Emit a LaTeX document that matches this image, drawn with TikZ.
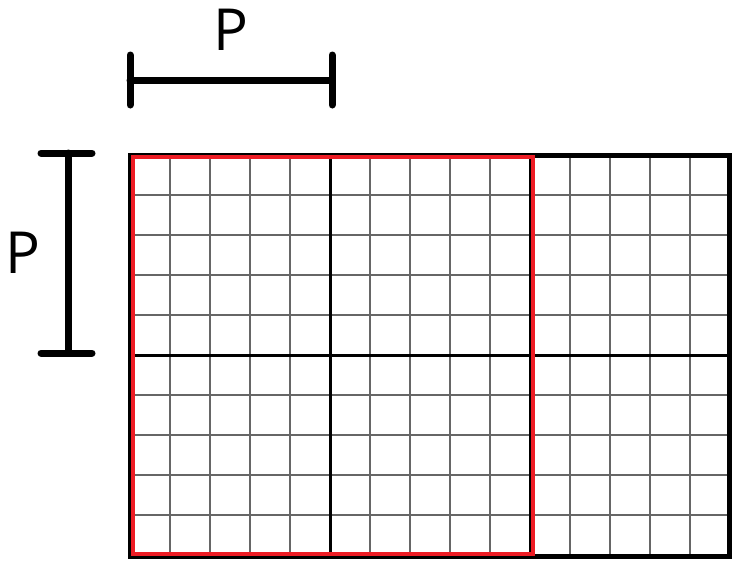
\documentclass[tikz,border=0pt]{standalone}
\usepackage{fontspec}
\setmainfont{Open Sans}
\usepackage{tikz}
\usetikzlibrary{positioning}

\definecolor{patchred}{RGB}{237,28,36}

\begin{document}
\begin{tikzpicture}[x=1pt, y=-1pt,
  fine/.style={black!60, line width=2pt},
  half/.style={black, line width=3pt},
  outline/.style={black, line width=5pt},
  patch/.style={patchred, line width=3.5pt},
  dimbar/.style={black, line width=7pt, line cap=round},
  lbl/.style={font=\fontsize{58}{60}\selectfont, inner sep=0pt}]

  \useasboundingbox (0,0) rectangle (732,563);

  % fine grid, 40px cells
  \foreach \i in {1,...,14}
    \draw[fine] (130+40*\i,155) -- (130+40*\i,555);
  \foreach \j in {1,...,9}
    \draw[fine] (130,155+40*\j) -- (730,155+40*\j);

  % block boundaries
  \draw[half] (330,155) -- (330,555);
  \draw[half] (530,155) -- (530,555);
  \draw[half] (130,355) -- (730,355);
  \draw[outline] (130,155) rectangle (729,556);

  % highlighted 2x2 block
  \draw[patch] (133,157) rectangle (533,554);

  % horizontal dimension
  \coordinate (hl) at (130,80);
  \coordinate (hr) at (332,80);
  \draw[dimbar] (hl) -- (hr);
  \draw[dimbar] ([yshift=-25pt]hl) -- ([yshift=25pt]hl);
  \draw[dimbar] ([yshift=-25pt]hr) -- ([yshift=25pt]hr);
  \node[lbl] (ptop) at (231,30) {P};

  % vertical dimension
  \coordinate (vt) at (68,153);
  \coordinate (vb) at (68,353);
  \draw[dimbar] (vt) -- (vb);
  \draw[dimbar] ([xshift=-27pt]vt) -- ([xshift=24pt]vt);
  \draw[dimbar] ([xshift=-27pt]vb) -- ([xshift=24pt]vb);
  \node[lbl] (pleft) at (23,253) {P};
\end{tikzpicture}
\end{document}
